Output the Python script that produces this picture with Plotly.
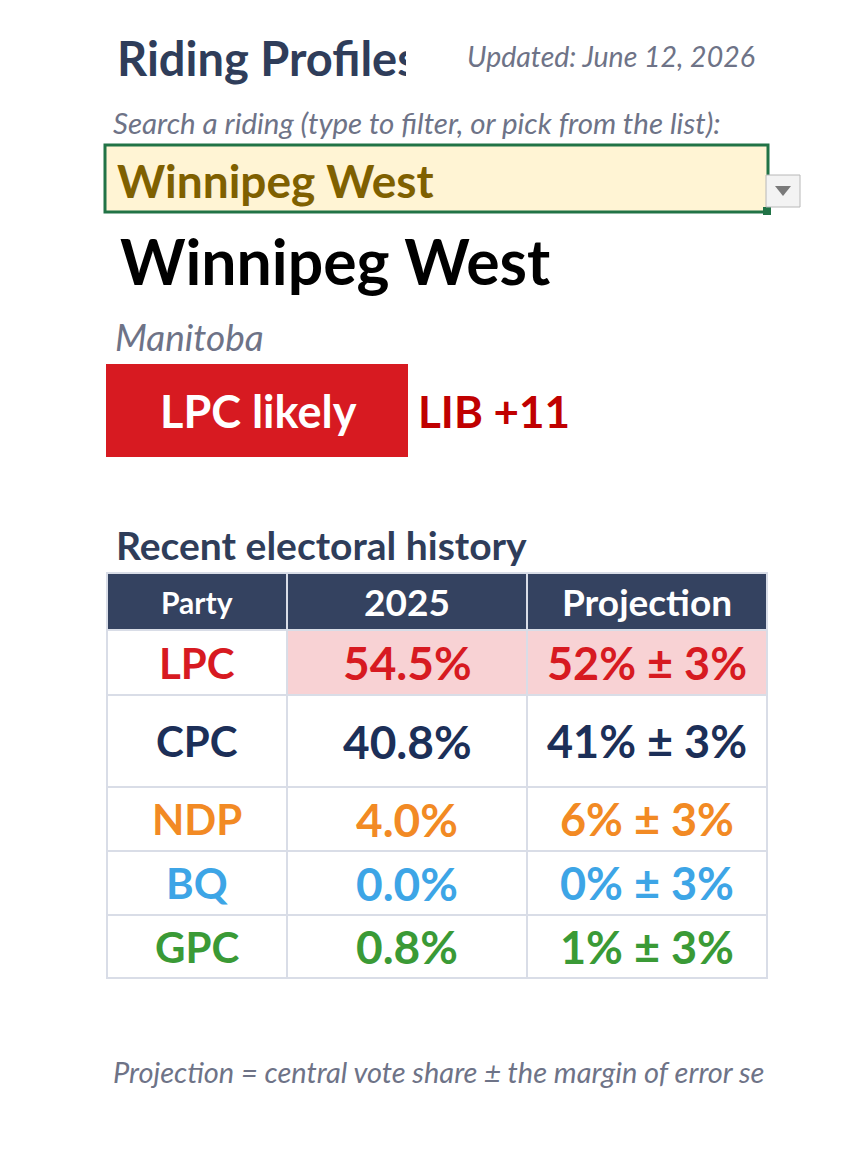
import plotly.graph_objects as go

W, H = 844, 1162

# ---------------- data ----------------
page_title = "Riding Profiles"
updated_label = "Updated: June 12, 2026"
search_prompt = "Search a riding (type to filter, or pick from the list):"
riding_name = "Winnipeg West"
province = "Manitoba"
rating_label = "LPC likely"
lead_party_short = "LIB"
history_title = "Recent electoral history"
header_labels = ["Party", "2025", "Projection"]
parties = ["LPC", "CPC", "NDP", "BQ", "GPC"]
share_2025 = [54.5, 40.8, 4.0, 0.0, 0.8]
proj_central = [52, 41, 6, 0, 1]
proj_margin = [3, 3, 3, 3, 3]
footnote = "Projection = central vote share \u00b1 the margin of error se"

# ---------------- styles ----------------
FONT = "Lato, 'Open Sans', sans-serif"
NAVY = "#2f3d5a"
GRAY = "#6e7387"
party_color = {"LPC": "#d71a21", "CPC": "#1c2f58", "NDP": "#f28a24",
               "BQ": "#3da5e6", "GPC": "#3a9a36"}
HEADER_BG = "#344260"
GRID = "#d9dde7"
PINK = "#f8d2d4"

fig = go.Figure()
fig.update_layout(
    width=W, height=H, margin=dict(l=0, r=0, t=0, b=0),
    paper_bgcolor="white", plot_bgcolor="white", showlegend=False,
    xaxis=dict(range=[0, W], visible=False, fixedrange=True),
    yaxis=dict(range=[H, 0], visible=False, fixedrange=True),
)

shapes = []
annots = []


def rect(x0, y0, x1, y1, fill, line=None, lw=0):
    shapes.append(dict(type="rect", xref="x", yref="y", x0=x0, y0=y0, x1=x1, y1=y1,
                       fillcolor=fill, line=dict(color=line or fill, width=lw),
                       layer="below"))


def txt(x, y, s, size, color, weight="normal", style="normal", anchor="left", width=None):
    d = dict(x=x, y=y, xref="x", yref="y", text=s, showarrow=False,
             xanchor=anchor, yanchor="middle", align=anchor if anchor != "center" else "center",
             font=dict(family=FONT, size=size, color=color, weight=weight, style=style),
             borderpad=0)
    if width is not None:
        d["width"] = width
    annots.append(d)


# header texts
txt(116, 58, page_title, 47, NAVY, weight="bold", width=289)
txt(466, 56, updated_label, 28.5, GRAY, style="italic")
txt(112, 122, search_prompt, 29.5, GRAY, style="italic")

# search box
rect(105, 145, 768, 212, "#fff4d4", "#217346", 3)
rect(763, 207, 771, 215, "#217346")
txt(116, 180, riding_name, 46, "#7f6000", weight="bold")
# dropdown button
rect(766, 175, 800, 207, "#f3f3f3", "#b8b8b8", 1)
shapes.append(dict(type="path", xref="x", yref="y", path="M 775 186 L 791 186 L 783 196 Z",
                   fillcolor="#7a7a7a", line=dict(width=0)))

# riding name & province
txt(119, 260, riding_name, 62.5, "#000000", weight="bold")
txt(114, 336, province, 37, GRAY, style="italic")

# rating box
rect(106, 364, 408, 457, "#d71a21")
txt(258, 411, rating_label, 45, "white", weight="bold", anchor="center")
lead = proj_central[0] - proj_central[1]
txt(417, 411, f"{lead_party_short} +{lead}", 44, "#c00000", weight="bold")

# electoral history
txt(115, 545, history_title, 39, NAVY, weight="bold")

col_edges = [107, 287, 527, 767]
row_edges = [573, 630, 695, 787, 851, 915, 978]
col_mid = [(col_edges[i] + col_edges[i + 1]) / 2 for i in range(3)]

# header row
for j, lab in enumerate(header_labels):
    rect(col_edges[j], row_edges[0], col_edges[j + 1], row_edges[1], HEADER_BG, GRID, 2)
    txt(col_mid[j], (row_edges[0] + row_edges[1]) / 2, lab, 30 if j == 0 else 37,
        "white", weight="bold", anchor="center")

leader = parties[max(range(len(parties)), key=lambda i: proj_central[i])]
val_sizes = [42, 46, 45]
for i, p in enumerate(parties):
    y0, y1 = row_edges[i + 1], row_edges[i + 2]
    ym = (y0 + y1) / 2
    c = party_color[p]
    vals = [p, f"{share_2025[i]:.1f}%", f"{proj_central[i]}% \u00b1 {proj_margin[i]}%"]
    for j, v in enumerate(vals):
        fill = PINK if (p == leader and j > 0) else "white"
        rect(col_edges[j], y0, col_edges[j + 1], y1, fill, GRID, 2)
        txt(col_mid[j], ym, v, val_sizes[j], c, weight="bold", anchor="center")

# footnote
txt(112, 1071, footnote, 29, GRAY, style="italic", width=655)

fig.update_layout(shapes=shapes, annotations=annots)
fig.write_html("out.html", config={"displayModeBar": False},
               post_script="document.body.style.margin='0';document.body.style.overflow='hidden';")
